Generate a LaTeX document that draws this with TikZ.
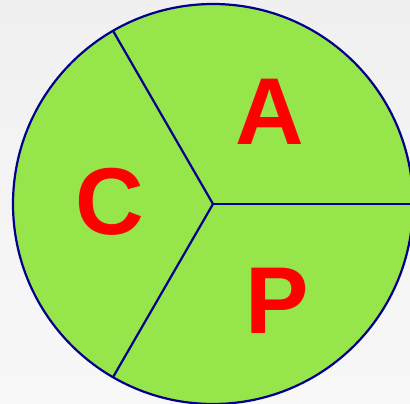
\documentclass[tikz,border=0pt]{standalone}
\usepackage{fontspec}
\setmainfont{Liberation Sans}
\definecolor{pie}{RGB}{150,230,75}
\definecolor{edge}{RGB}{0,0,140}
\definecolor{bgtop}{RGB}{240,240,240}
\definecolor{bgbot}{RGB}{248,248,248}
\begin{document}
\begin{tikzpicture}[x=1pt,y=-1pt,
  letter/.style={text=red,font=\bfseries\fontsize{95}{95}\selectfont,inner sep=0pt,anchor=base},
  divider/.style={draw=edge,line width=2.2pt}]
\useasboundingbox (0,0) rectangle (410,404);
\shade[top color=bgtop,bottom color=bgbot] (0,0) rectangle (410,404);
\begin{scope}
\clip (0,0) rectangle (410,404);
\node[circle,fill=pie,draw=edge,line width=2.2pt,minimum size=400pt,inner sep=0pt,outer sep=0pt] (disk) at (213,204) {};
\draw[divider] (disk.center) -- (disk.0);
\draw[divider] (disk.center) -- (disk.120);
\draw[divider] (disk.center) -- (disk.240);
\end{scope}
\node[letter] (a) at (270,144) {A};
\node[letter] (p) at (277,333) {P};
\node[letter] (c) at (110,234) {C};
\end{tikzpicture}
\end{document}
